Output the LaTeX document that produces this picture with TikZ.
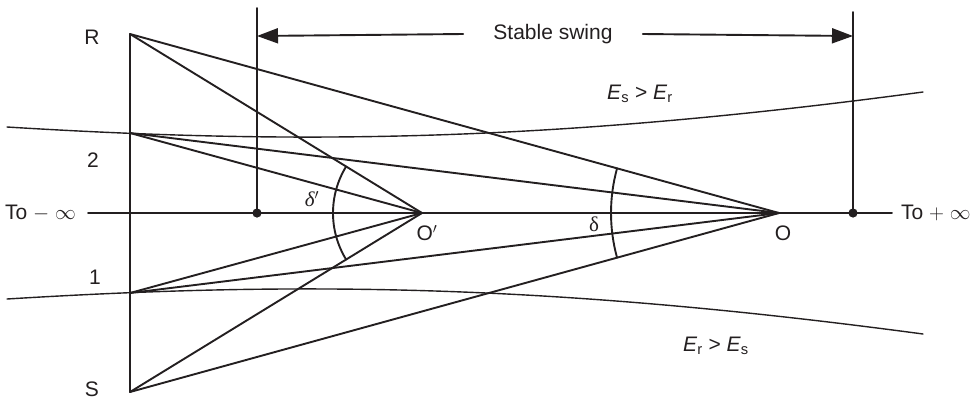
\documentclass[tikz,border=0pt]{standalone}
\usepackage{fontspec}
\setmainfont{Liberation Sans}
\newfontfamily\greekfont{Liberation Serif}
\usepackage{xcolor}
\usepackage{tikz}
\usetikzlibrary{arrows.meta}
\definecolor{diagInk}{HTML}{231F20}

\begin{document}
\begin{tikzpicture}[x=1pt, y=-1pt, line cap=round, line join=round,
    diagline/.style={diagInk, line width=1.9pt},
    curveline/.style={diagInk, line width=1.4pt},
    lbl/.style={font=\fontsize{21}{25}\selectfont, text=diagInk, inner sep=0pt}]
  \useasboundingbox (0,0) rectangle (971,400);
  % points on the diagram
  \coordinate (R)  at (130,34);
  \coordinate (P2) at (130,133);
  \coordinate (P1) at (130,293);
  \coordinate (S)  at (130,392);
  \coordinate (Op) at (422,213);
  \coordinate (O)  at (779,213);
  \coordinate (axL) at (88,213);
  \coordinate (axR) at (892,213);
  \coordinate (dL) at (257,213);
  \coordinate (dR) at (853,213);
  \coordinate (tL) at (257,8);
  \coordinate (tR) at (853,12);
  \coordinate (aL) at (257,36);
  \coordinate (aR) at (853,36);

  % labels
  \node[lbl] (lR)  at (92,37)  {R};
  \node[lbl] (l2)  at (93,160) {2};
  \node[lbl] (l1)  at (95,277) {1};
  \node[lbl] (lS)  at (92,389) {S};
  \node[lbl, anchor=west] (minf) at (5,213) {To $-$ $\infty$};
  \node[lbl, anchor=west] (pinf) at (901,213) {To $+$ $\infty$};
  \node[lbl] (lOp) at (427,233) {O$'$};
  \node[lbl] (lO)  at (783,233) {O};
  \node[lbl] (ldp) at (312,199) {{\greekfont\itshape δ}$'$};
  \node[lbl] (ld)  at (594,224) {{\greekfont δ}};
  \node[lbl, inner xsep=30pt] (swing) at (553,34) {Stable swing};
  \node[lbl] (esr) at (640,94)  {\textit{E}\textsubscript{s} > \textit{E}\textsubscript{r}};
  \node[lbl] (ers) at (716,346) {\textit{E}\textsubscript{r} > \textit{E}\textsubscript{s}};

  % axis and stable-swing limits
  \draw[diagline] (axL) -- (axR);
  \draw[diagline] (R) -- (S);
  \draw[diagline] (tL) -- (dL);
  \draw[diagline] (tR) -- (dR);
  \fill[diagInk] (dL) circle (4.6pt) (dR) circle (4.6pt);
  \draw[diagline, -{Triangle[length=21pt, width=15pt]}] (swing.west) -- (aL);
  \draw[diagline, -{Triangle[length=21pt, width=15pt]}] (swing.east) -- (aR);

  % radial lines
  \foreach \p in {R,P2,P1,S}{%
    \draw[diagline] (\p) -- (Op);
    \draw[diagline] (\p) -- (O);
  }

  % angle arcs
  \draw[diagline] (Op) ++(148.5:89pt) arc[start angle=148.5, end angle=211.5, radius=89pt];
  \draw[diagline] (O) ++(164.6:168pt) arc[start angle=164.6, end angle=195.4, radius=168pt];

  % E_s = E_r boundary curves
  \draw[curveline] (7,127) .. controls (300,145) and (550,142) .. (923,92);
  \draw[curveline] (7,299) .. controls (300,281) and (550,284) .. (923,334);
\end{tikzpicture}
\end{document}
